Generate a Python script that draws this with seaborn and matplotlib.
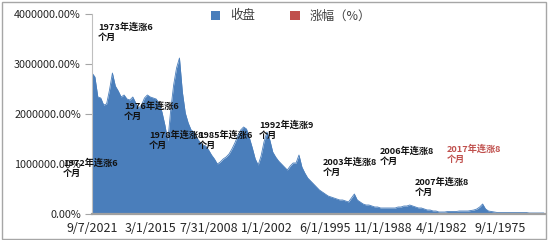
import numpy as np
import pandas as pd
import seaborn as sns
import matplotlib
matplotlib.use("Agg")
import matplotlib.pyplot as plt
from matplotlib.patches import Patch, Rectangle

# ---------------- data ----------------
# closing level, in units of 10,000 %, one value per step along the category axis
close_wan = [
    282, 274, 234, 232, 218, 220, 248, 282, 256, 246,
    234, 238, 230, 228, 234, 222, 212, 218, 232, 238,
    234, 232, 230, 222, 204, 178, 146, 208, 258, 292,
    312, 244, 202, 182, 168, 164, 152, 144, 138, 136,
    128, 118, 110, 100, 104, 110, 114, 120, 130, 142,
    156, 168, 174, 170, 152, 132, 110, 98, 116, 144,
    164, 148, 124, 114, 106, 100, 94, 88, 96, 102,
    102, 118, 94, 82, 72, 66, 60, 54, 48, 44,
    40, 36, 34, 32, 30, 28, 28, 26, 24, 32,
    40, 28, 24, 20, 18, 18, 16, 14, 14, 12,
    12, 12, 12, 12, 12, 14, 14, 16, 16, 18,
    16, 14, 12, 12, 10, 8, 8, 6, 6, 4,
    4, 4, 5, 5, 5, 5, 6, 6, 6, 6,
    7, 8, 10, 14, 20, 10, 6, 5, 4, 3,
    3, 3, 3, 3, 3, 3, 3, 3, 3, 3,
    2, 2, 2, 2, 2, 2,
]
x_tick_labels = ["9/7/2021", "3/1/2015", "7/31/2008", "1/1/2002",
                 "6/1/1995", "11/1/1988", "4/1/1982", "9/1/1975"]
y_ticks = [0, 1000000, 2000000, 3000000, 4000000]
legend_labels = ["收盘", "涨幅（%）"]
annotations = [
    "1973年连涨6\n个月", "1976年连涨6\n个月", "1978年连涨8\n个月",
    "1985年连涨6\n个月", "1992年连涨9\n个月", "1972年连涨6\n个月",
    "2003年连涨8\n个月", "2006年连涨8\n个月", "2007年连涨8\n个月",
    "2017年连涨8\n个月",
]

df = pd.DataFrame({"idx": np.arange(len(close_wan)),
                   "close": np.array(close_wan, dtype=float) * 1e4})

# ---------------- style ----------------
sns.set_theme(style="white")
plt.rcParams["font.family"] = ["Noto Sans CJK SC", "DejaVu Sans"]

BLUE = "#4A7EBB"
RED = "#C0504D"
W, H = 548, 240

fig = plt.figure(figsize=(W / 100, H / 100), dpi=100)
ax = fig.add_axes([92 / W, 1 - 214 / H, (545 - 92) / W, 200 / H])

sns.lineplot(data=df, x="idx", y="close", ax=ax, color=BLUE, lw=0.6)
ax.fill_between(df["idx"], 0, df["close"], color=BLUE, lw=0)

ax.set_xlim(0, 155.4)
ax.set_ylim(0, 4000000)
ax.set_xlabel("")
ax.set_ylabel("")

ax.set_yticks(y_ticks)
ax.set_yticklabels([f"{v:.2f}%" for v in y_ticks], fontsize=7.8, color="#262626")
ax.set_xticks(np.arange(len(x_tick_labels)) * 20)
ax.set_xticklabels(x_tick_labels, fontsize=9, color="#262626")
ax.tick_params(axis="y", length=5, width=0.8, color="#a6a6a6", pad=3, left=True)
ax.tick_params(axis="x", length=0, pad=6)

for s in ["top", "right"]:
    ax.spines[s].set_visible(False)
ax.spines["left"].set_color("#bfbfbf")
ax.spines["left"].set_linewidth(0.8)
ax.spines["bottom"].set_color("#a0a0a0")
ax.spines["bottom"].set_linewidth(1.6)

# annotations: (left px, first-line centre px)
ann_pos = [(98, 28), (124, 107), (149, 136), (198, 136), (259, 126),
           (63, 164), (323, 163), (380, 152), (415, 183), (447, 150)]
for txt, (px, py) in zip(annotations, ann_pos):
    col = RED if txt.startswith("2017") else "#111111"
    fig.text(px / W, 1 - (py - 5.5) / H, txt, fontsize=6.6, fontweight="bold",
             color=col, ha="left", va="top", linespacing=1.15)

handles = [Patch(facecolor=BLUE, edgecolor="none"),
           Patch(facecolor=RED, edgecolor="none")]
fig.legend(handles, legend_labels, loc="center", bbox_to_anchor=(291 / W, 1 - 16 / H),
           ncol=2, frameon=False, fontsize=9, handlelength=0.75, handleheight=0.75,
           handletextpad=0.8, columnspacing=2.8, labelcolor="#404040")

fig.patches.append(Rectangle((1.5 / W, 1.5 / H), (546 - 1.5) / W, (238 - 1.5) / H,
                             transform=fig.transFigure, fill=False,
                             edgecolor="#a6a6a6", lw=1.0))

fig.savefig("out.png", dpi=100)
